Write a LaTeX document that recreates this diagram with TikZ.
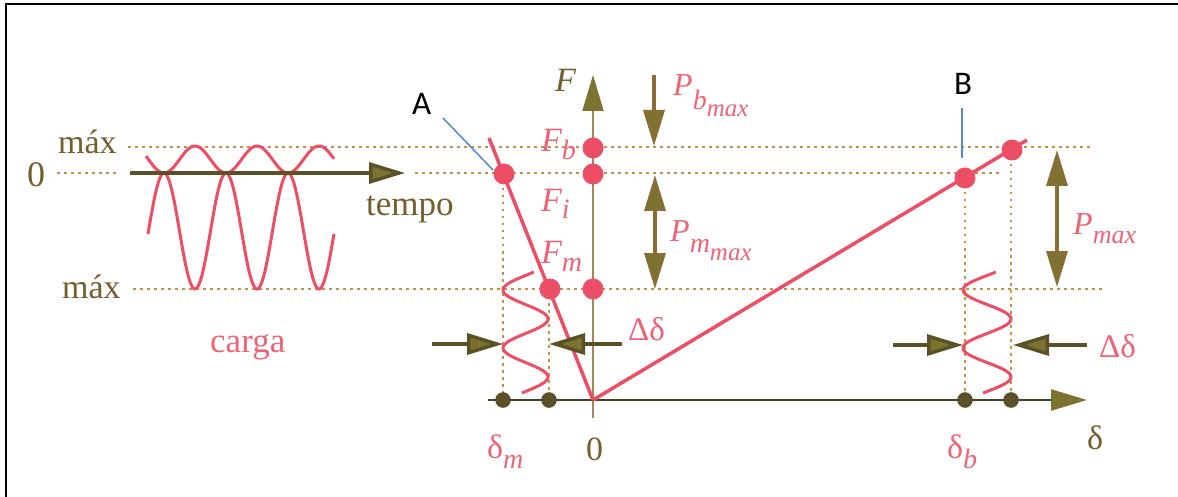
\documentclass[tikz,border=0pt]{standalone}
\usepackage{fontspec}
\setmainfont{Liberation Serif}
\newfontfamily\sansf{Carlito}
\usetikzlibrary{arrows.meta}
\definecolor{redc}{RGB}{236,78,102}
\definecolor{redtext}{RGB}{236,100,118}
\definecolor{olivetext}{RGB}{115,95,45}
\definecolor{olivefill}{RGB}{125,115,48}
\definecolor{olivedark}{RGB}{90,82,38}
\definecolor{dotline}{RGB}{195,145,65}
\definecolor{axisc}{RGB}{165,135,85}
\definecolor{darkaxis}{RGB}{70,64,38}
\definecolor{bluec}{RGB}{80,140,205}
\definecolor{shaftc}{RGB}{135,110,52}
\newcommand\sz[1]{\fontsize{#1}{#1}\selectfont}
\tikzset{
  guide/.style={dotline, line width=2.5pt, dash pattern=on 2.5pt off 4.5pt},
  redline/.style={redc, line width=3.5pt},
  redwave/.style={redc, line width=3pt},
  reddot/.style={circle, fill=redc, inner sep=0pt, minimum size=21pt},
  darkdot/.style={circle, fill=olivedark, draw=darkaxis, inner sep=0pt, minimum size=15pt},
  bigtip/.tip={Triangle[length=36pt,width=21pt,fill=olivefill]},
  olivearrow/.style={shaftc, line width=3.5pt},
  lbl/.style={inner sep=0pt, anchor=base west},
  callout/.style={bluec, line width=1.5pt},
}
\begin{document}
\begin{tikzpicture}[x=1pt,y=-1pt]
\useasboundingbox (0,0) rectangle (1178,497);
\fill[white] (0,0) rectangle (1178,497);
% frame
\draw[black, line width=2pt] (6,497) -- (6,4) -- (1178,4);

% coordinates
\coordinate (t0) at (130,173);
\coordinate (t1) at (405,173);
\coordinate (o) at (593,400);
\coordinate (fbot) at (593,418);
\coordinate (ftop) at (593,75);
\coordinate (dl) at (488,400);
\coordinate (dr) at (1087,400);
\coordinate (atop) at (489,138);
\coordinate (btop) at (1027,140);

% guide lines
\draw[guide] (128,147) -- (1090,147);
\draw[guide] (57,173) -- (117,173);
\draw[guide] (415,173) -- (1000,173);
\draw[guide] (133,289) -- (1102,289);
\draw[guide] (503,174) -- (503,400);
\draw[guide] (549,289) -- (549,400);
\draw[guide] (965,178) -- (965,400);
\draw[guide] (1011,150) -- (1011,400);

% load waves
\draw[redwave] plot[domain=146:334, samples=160, variable=\x] (\x, {159.5-13.5*cos((\x-195)/62*360)});
\draw[redwave] plot[domain=148:334, samples=160, variable=\x] (\x, {231+58*cos((\x-195)/62*360)});

% tempo arrow
\draw[olivedark, line width=3.5pt, -{bigtip}] (t0) -- (t1);

% axes
\draw[axisc, line width=2pt, -{Triangle[length=36pt,width=21pt,fill=olivefill,color=olivefill]}] (fbot) -- (ftop);
\draw[darkaxis, line width=2.5pt, -{Triangle[length=36pt,width=21pt,fill=olivefill,color=olivefill]}] (dl) -- (dr);

% springs
\draw[redwave] plot[domain=272:393, samples=120, variable=\t] ({525.5-22.5*cos((\t-290)/58*360)}, \t);
\draw[redwave] plot[domain=272:393, samples=120, variable=\t] ({987-24*cos((\t-290)/58*360)}, \t);

% stiffness lines
\draw[redline] (atop) -- (o);
\draw[redline] (o) -- (btop);

% dots
\node[reddot] (da) at (504,174) {};
\node[reddot] (dmm) at (550,289) {};
\node[reddot] (dfb) at (593,148) {};
\node[reddot] (dfi) at (593,174) {};
\node[reddot] (dfm) at (593,289) {};
\node[reddot] (dbb) at (965,178) {};
\node[reddot] (dbt) at (1012,150) {};
\node[darkdot] (x1) at (503,400) {};
\node[darkdot] (x2) at (549,400) {};
\node[darkdot] (x3) at (965,400) {};
\node[darkdot] (x4) at (1011,400) {};

% force arrows
\coordinate (pb0) at (654,75); \coordinate (pb1) at (654,146);
\draw[olivearrow, -{bigtip}] (pb0) -- (pb1);
\coordinate (pm0) at (655,175); \coordinate (pm1) at (655,289);
\draw[olivearrow, {bigtip}-{bigtip}] (pm0) -- (pm1);
\coordinate (pp0) at (1057,150); \coordinate (pp1) at (1057,287);
\draw[olivearrow, {bigtip}-{bigtip}] (pp0) -- (pp1);

% delta arrows
\coordinate (la0) at (432,344); \coordinate (la1) at (503,344);
\coordinate (lb0) at (622,344); \coordinate (lb1) at (549,344);
\coordinate (ra0) at (893,345); \coordinate (ra1) at (963,345);
\coordinate (rb0) at (1087,345); \coordinate (rb1) at (1013,345);
\draw[olivedark, line width=3.5pt, -{bigtip}] (la0) -- (la1);
\draw[olivedark, line width=3.5pt, -{bigtip}] (lb0) -- (lb1);
\draw[olivedark, line width=3.5pt, -{bigtip}] (ra0) -- (ra1);
\draw[olivedark, line width=3.5pt, -{bigtip}] (rb0) -- (rb1);

% left labels
\node[lbl, text=olivetext] (mx1) at (58,154) {\sz{34}máx};
\node[lbl, text=olivetext] (zero) at (27,187) {\sz{36}0};
\node[lbl, text=olivetext] (mx2) at (62,298) {\sz{34}máx};
\node[lbl, text=olivetext] (tempo) at (366,215) {\sz{35}tempo};
\node[lbl, text=redtext] (carga) at (210,352) {\sz{35}carga};

% axis labels
\node[lbl, text=olivetext] (F) at (555,92) {\sz{34}\itshape F};
\node[lbl, text=redtext] (Fb) at (541,152) {\sz{34}\itshape F\raisebox{-8pt}{\sz{28}b}};
\node[lbl, text=redtext] (Fi) at (541,212) {\sz{34}\itshape F\raisebox{-6pt}{\sz{28}i}};
\node[lbl, text=redtext] (Fm) at (541,263) {\sz{34}\itshape F\raisebox{-9pt}{\sz{28}m}};
\node[lbl, text=redtext] (Pb) at (673,96) {\sz{32}\itshape P\raisebox{-14pt}{\sz{28}b\raisebox{-7pt}{\sz{25}max}}};
\node[lbl, text=redtext] (Pm) at (670,242) {\sz{32}\itshape P\raisebox{-11pt}{\sz{28}m\raisebox{-7pt}{\sz{25}max}}};
\node[lbl, text=redtext] (Pmax) at (1073,235) {\sz{32}\itshape P\raisebox{-9pt}{\sz{26}max}};
\node[lbl, text=redtext] (dd1) at (628,340) {\sz{33}Δδ};
\node[lbl, text=redtext] (dd2) at (1099,357) {\sz{33}Δδ};
\node[lbl, text=olivetext] (delta) at (1087,449) {\sz{34}δ};
\node[lbl, text=redtext] (dmlab) at (487,458) {\sz{34}δ\raisebox{-10pt}{\sz{28}\itshape m}};
\node[lbl, text=olivetext] (z2) at (586,460) {\sz{34}0};
\node[lbl, text=redtext] (dblab) at (947,458) {\sz{34}δ\raisebox{-10pt}{\sz{28}\itshape b}};

% callouts
\node[lbl, text=black] (A) at (412,115) {\sansf\sz{33}A};
\node[lbl, text=black] (B) at (954,95) {\sansf\sz{33}B};
\coordinate (a0) at (443,118); \coordinate (a1) at (493,170);
\draw[callout] (a0) -- (a1);
\coordinate (b0) at (962,108); \coordinate (b1) at (962,158);
\draw[callout] (b0) -- (b1);
\end{tikzpicture}
\end{document}
